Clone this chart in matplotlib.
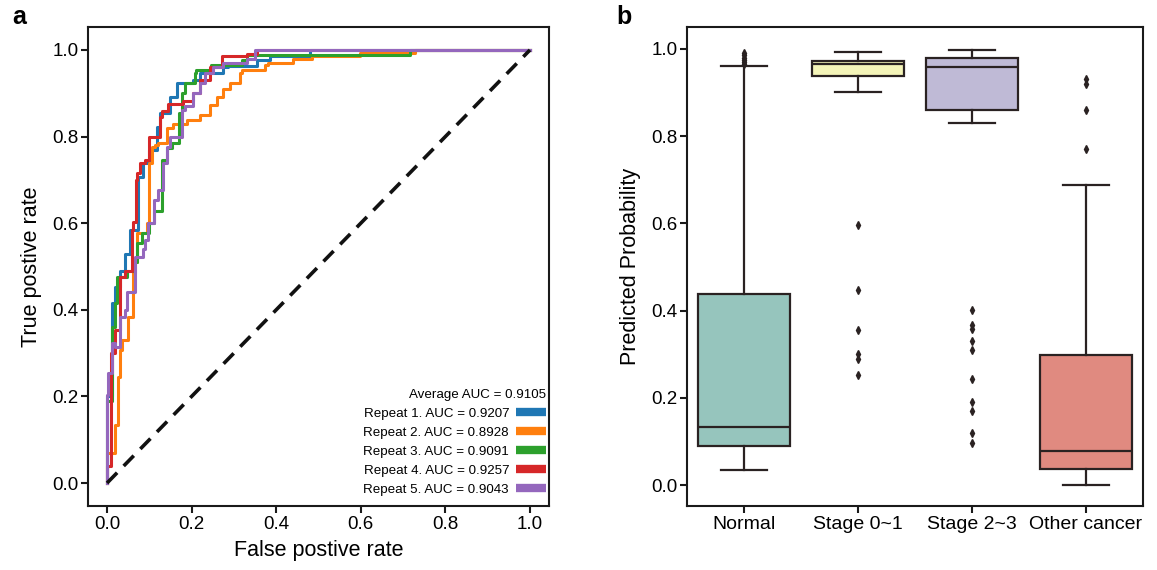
import matplotlib
matplotlib.use("Agg")
import matplotlib.pyplot as plt
from matplotlib.lines import Line2D

plt.rcParams['font.family'] = ['Liberation Sans', 'DejaVu Sans']

# ---------------- Panel a data (ROC vertices) ----------------
roc_labels = ["Repeat 1. AUC = 0.9207", "Repeat 2. AUC = 0.8928", "Repeat 3. AUC = 0.9091",
              "Repeat 4. AUC = 0.9257", "Repeat 5. AUC = 0.9043"]
roc_colors = ["#1f77b4", "#ff7f0e", "#2ca02c", "#d62728", "#9467bd"]

fpr1 = [0.0, 0.012, 0.019, 0.031, 0.043, 0.054, 0.074, 0.086, 0.100, 0.117, 0.125, 0.149, 0.165, 0.177, 0.204, 0.220, 0.275, 0.285, 0.354, 0.385, 0.48, 1.0]
tpr1 = [0.0, 0.200, 0.415, 0.453, 0.490, 0.530, 0.584, 0.707, 0.738, 0.769, 0.823, 0.854, 0.892, 0.923, 0.923, 0.930, 0.946, 0.960, 0.962, 0.977, 0.985, 1.0]

fpr2 = [0.0, 0.018, 0.025, 0.030, 0.035, 0.050, 0.062, 0.066, 0.070, 0.094, 0.100, 0.106, 0.113, 0.120, 0.141, 0.157, 0.188, 0.220, 0.243, 0.260, 0.275, 0.290, 0.314, 0.318, 0.374, 0.380, 0.440, 0.484, 0.598, 0.728, 1.0]
tpr2 = [0.0, 0.070, 0.134, 0.245, 0.307, 0.330, 0.384, 0.484, 0.510, 0.577, 0.600, 0.739, 0.777, 0.780, 0.785, 0.820, 0.830, 0.838, 0.850, 0.873, 0.892, 0.910, 0.923, 0.946, 0.954, 0.965, 0.969, 0.980, 0.986, 0.992, 1.0]

fpr3 = [0.0, 0.012, 0.019, 0.023, 0.047, 0.062, 0.070, 0.082, 0.100, 0.110, 0.129, 0.130, 0.141, 0.153, 0.169, 0.177, 0.184, 0.208, 0.210, 0.247, 0.318, 0.330, 0.354, 0.716, 1.0]
tpr3 = [0.0, 0.190, 0.360, 0.415, 0.476, 0.490, 0.510, 0.554, 0.577, 0.600, 0.627, 0.677, 0.746, 0.773, 0.785, 0.854, 0.900, 0.923, 0.946, 0.954, 0.965, 0.977, 0.988, 0.988, 1.0]

fpr4 = [0.0, 0.010, 0.020, 0.031, 0.043, 0.058, 0.061, 0.069, 0.070, 0.078, 0.090, 0.100, 0.106, 0.125, 0.129, 0.145, 0.180, 0.204, 0.220, 0.243, 0.271, 0.330, 0.354, 0.370, 1.0]
tpr4 = [0.0, 0.040, 0.300, 0.353, 0.476, 0.490, 0.584, 0.603, 0.700, 0.715, 0.739, 0.746, 0.800, 0.800, 0.846, 0.860, 0.875, 0.881, 0.900, 0.931, 0.960, 0.985, 0.991, 1.000, 1.0]

fpr5 = [0.0, 0.003, 0.011, 0.019, 0.031, 0.043, 0.047, 0.066, 0.086, 0.090, 0.098, 0.110, 0.121, 0.133, 0.141, 0.149, 0.177, 0.184, 0.204, 0.220, 0.232, 0.251, 0.275, 0.330, 0.350, 0.385, 1.0]
tpr5 = [0.0, 0.203, 0.254, 0.323, 0.315, 0.384, 0.400, 0.442, 0.523, 0.540, 0.561, 0.600, 0.654, 0.677, 0.738, 0.777, 0.800, 0.861, 0.871, 0.900, 0.923, 0.946, 0.960, 0.969, 0.980, 1.000, 1.0]

roc_fpr = [fpr1, fpr2, fpr3, fpr4, fpr5]
roc_tpr = [tpr1, tpr2, tpr3, tpr4, tpr5]
avg_auc_text = "Average AUC = 0.9105"

# ---------------- Panel b data (box statistics) ----------------
box_categories = ["Normal", "Stage 0~1", "Stage 2~3", "Other cancer"]
box_colors = ["#96c5bd", "#f4f4b8", "#bfbad6", "#e08a80"]
box_whislo = [0.035, 0.900, 0.829, 0.000]
box_q1 = [0.090, 0.938, 0.859, 0.036]
box_med = [0.134, 0.965, 0.958, 0.077]
box_q3 = [0.438, 0.972, 0.979, 0.297]
box_whishi = [0.961, 0.993, 0.997, 0.687]
box_fliers = [
    [0.965, 0.970, 0.975, 0.980, 0.985, 0.990],
    [0.597, 0.447, 0.355, 0.300, 0.290, 0.252],
    [0.402, 0.368, 0.357, 0.330, 0.309, 0.242, 0.190, 0.170, 0.119, 0.096],
    [0.930, 0.920, 0.860, 0.770],
]

fig = plt.figure(figsize=(11.57, 5.70), dpi=100)

# ---------------- Panel a ----------------
axa = fig.add_axes([88/1157, 64/570, 461/1157, 479/570])
for f, t, c, lab in zip(roc_fpr, roc_tpr, roc_colors, roc_labels):
    axa.plot(f, t, color=c, lw=2.2, drawstyle='steps-pre', label=lab)
axa.plot([0, 1], [0, 1], color='#111111', lw=2.6, ls=(0, (4, 2.6)))
axa.set_xlim(-0.045, 1.045)
axa.set_ylim(-0.053, 1.053)
axa.set_xticks([0.0, 0.2, 0.4, 0.6, 0.8, 1.0])
axa.set_yticks([0.0, 0.2, 0.4, 0.6, 0.8, 1.0])
axa.set_xlabel("False postive rate", fontsize=15.5, labelpad=5)
axa.set_ylabel("True postive rate", fontsize=15.5, labelpad=7)
handles = [Line2D([0], [0], color=c, lw=6, solid_capstyle='butt') for c in roc_colors]
leg = axa.legend(handles, roc_labels, loc='lower right', frameon=False, fontsize=9.6,
                 markerfirst=False, handlelength=2.3, handletextpad=0.5,
                 title=avg_auc_text, title_fontsize=9.6, alignment='right',
                 borderaxespad=0.0, borderpad=0.2, labelspacing=0.5,
                 bbox_to_anchor=(1.0, 0.015))
axa.text(-0.165, 0.995, "a", transform=axa.transAxes, fontsize=18, fontweight='bold', va='bottom')

# ---------------- Panel b ----------------
axb = fig.add_axes([687/1157, 64/570, 456/1157, 479/570])
stats = []
for i, name in enumerate(box_categories):
    stats.append(dict(label=name, whislo=box_whislo[i], q1=box_q1[i], med=box_med[i],
                      q3=box_q3[i], whishi=box_whishi[i], fliers=box_fliers[i]))
lc = '#2a2222'
bp = axb.bxp(stats, positions=range(len(stats)), widths=0.8, patch_artist=True,
             boxprops=dict(edgecolor=lc, linewidth=1.6),
             medianprops=dict(color=lc, linewidth=1.6),
             whiskerprops=dict(color=lc, linewidth=1.6),
             capprops=dict(color=lc, linewidth=1.6),
             flierprops=dict(marker='d', markerfacecolor=lc, markeredgecolor=lc, markersize=4.2))
for patch, c in zip(bp['boxes'], box_colors):
    patch.set_facecolor(c)
axb.set_xlim(-0.5, 3.5)
axb.set_ylim(-0.048, 1.05)
axb.set_yticks([0.0, 0.2, 0.4, 0.6, 0.8, 1.0])
axb.set_ylabel("Predicted Probability", fontsize=15.5, labelpad=7)
axb.text(-0.155, 0.995, "b", transform=axb.transAxes, fontsize=18, fontweight='bold', va='bottom')

for ax in (axa, axb):
    for s in ax.spines.values():
        s.set_linewidth(1.5)
        s.set_color('#1a1a1a')
    ax.tick_params(labelsize=13.5, width=1.5, length=5, pad=2, color='#1a1a1a')
axb.tick_params(axis='x', labelsize=14)

fig.savefig("out.png", dpi=100)
